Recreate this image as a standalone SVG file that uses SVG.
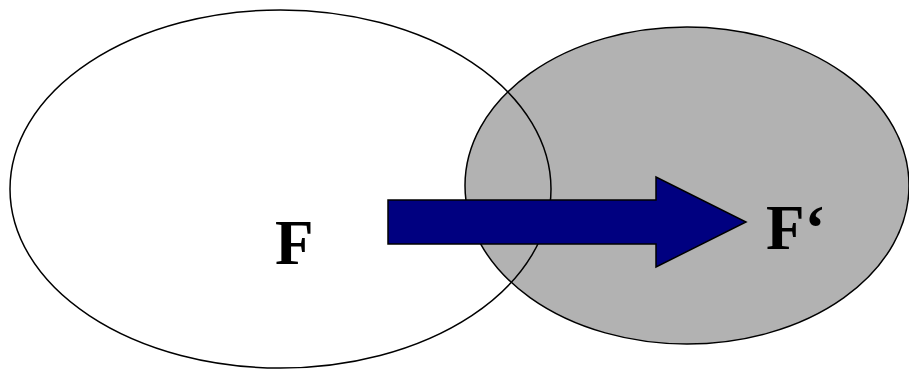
<svg xmlns="http://www.w3.org/2000/svg" width="909" height="369" viewBox="0 0 909 369">
<style>
.lbl{font-family:"Liberation Serif","Times New Roman",serif;font-weight:bold;font-size:63px;fill:#000}
.ol{stroke:#000;stroke-width:1.5}
</style>
<rect width="909" height="369" fill="#fff"/>
<g id="node-Fprime">
<ellipse class="ol" cx="687" cy="185.5" rx="222" ry="158.5" fill="#b2b2b2"/>
</g>
<g id="node-F">
<ellipse class="ol" cx="280.5" cy="189" rx="270.5" ry="179" fill="none"/>
<text class="lbl" x="275" y="264">F</text>
</g>
<g id="connectors">
<polygon points="388,200 656,200 656,177 746,222 656,267 656,244 388,244" fill="#000080" stroke="#000" stroke-width="1.5"/>
</g>
<g id="label-Fprime">
<text class="lbl" x="766" y="249">F‘</text>
</g>
</svg>
